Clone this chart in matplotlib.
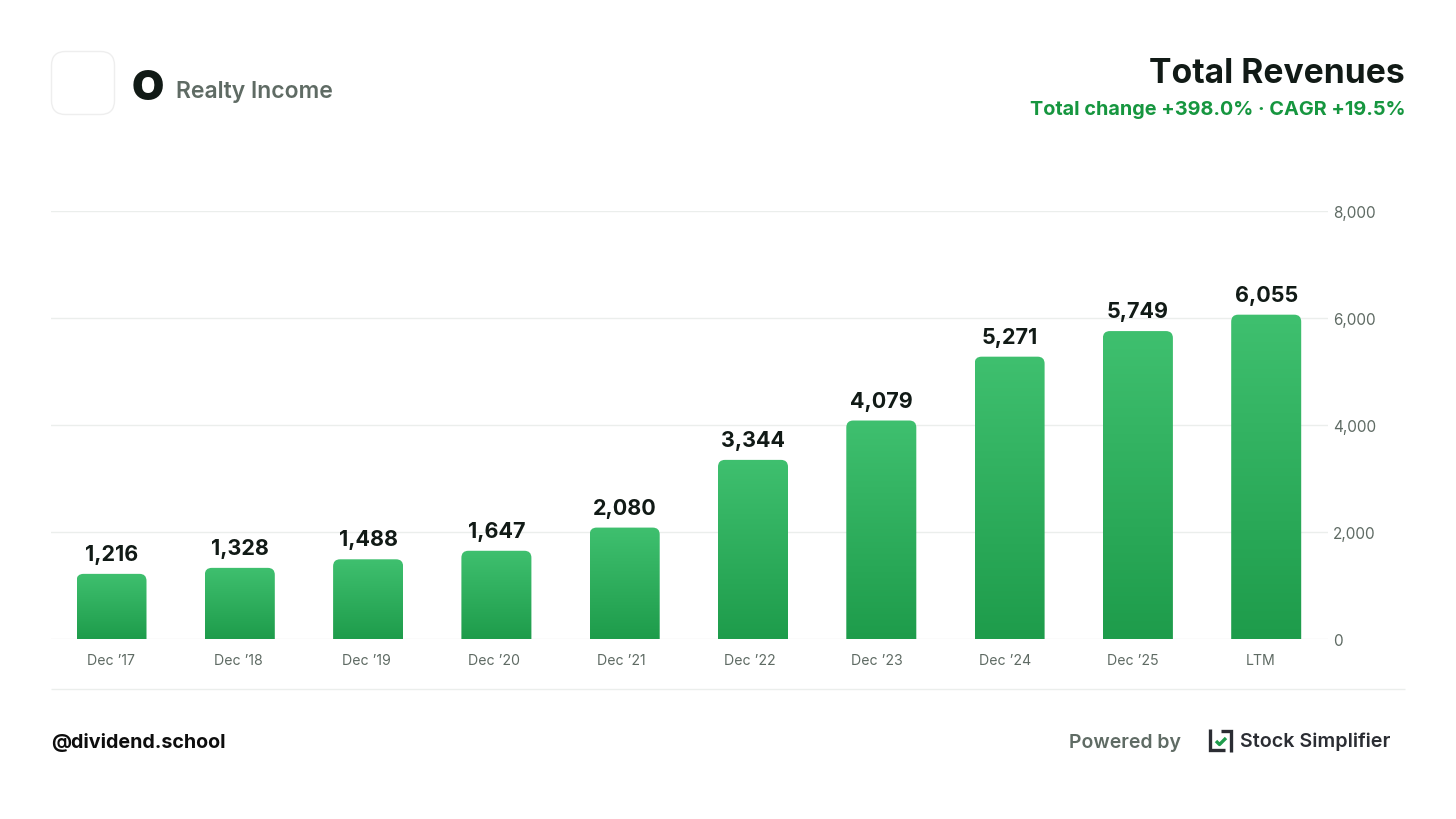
import matplotlib
matplotlib.use("Agg")
import matplotlib.pyplot as plt
import numpy as np
from matplotlib.path import Path
from matplotlib.patches import PathPatch, FancyBboxPatch
from matplotlib.colors import LinearSegmentedColormap
from matplotlib.transforms import ScaledTranslation

categories = ["Dec '17", "Dec '18", "Dec '19", "Dec '20", "Dec '21", "Dec '22", "Dec '23", "Dec '24", "Dec '25", "LTM"]
categories = [c.replace("'", "\u2019") for c in categories]
revenues = [1216, 1328, 1488, 1647, 2080, 3344, 4079, 5271, 5749, 6055]
y_ticks = [0, 2000, 4000, 6000, 8000]

W, H = 1456, 819
FONT = ["Inter", "DejaVu Sans"]
DARK = "#111a16"
GREY = "#5f6b64"
GRID = "#ebeeec"
plt.rcParams["font.family"] = FONT

fig = plt.figure(figsize=(W / 100, H / 100), dpi=100, facecolor="white")

# plot area
L, R, T, B = 51, 1328, 210.5, 639
ax = fig.add_axes([L / W, 1 - B / H, (R - L) / W, (B - T) / H])
XLIM = ((L - 111.5) / 128.3, (R - 111.5) / 128.3)
ax.set_facecolor("none")
for s in ax.spines.values():
    s.set_visible(False)
ax.set_yticks(y_ticks)
ax.set_yticklabels([f"{v:,}" for v in y_ticks], color=GREY, fontsize=11)
ax.yaxis.tick_right()
ax.tick_params(axis="y", length=0, pad=3.5)
for lab in ax.get_yticklabels():
    lab.set_transform(lab.get_transform() + ScaledTranslation(0, -1.5 / 100, fig.dpi_scale_trans))
ax.set_xticks([])
ax.grid(axis="y", color=GRID, lw=1, zorder=0)
ax.set_axisbelow(True)

# the month labels sit on a slightly tighter spacing than the bars
lx = ax.twiny()
lx.set_xlim((L - 111) / 127.7, (R - 111) / 127.7)
for s in lx.spines.values():
    s.set_visible(False)
lx.xaxis.tick_bottom()
lx.set_xticks(range(len(categories)))
lx.set_xticklabels(categories, color=GREY, fontsize=10.2)
lx.tick_params(axis="x", length=0, pad=11)

cmap = LinearSegmentedColormap.from_list("g", ["#3fc06f", "#1e9c4b"])
grad = np.linspace(0, 1, 256).reshape(-1, 1)
bar_w = 70 / 128.3
rx = 7 / 128.3
ry = 7 * 8000 / (B - T)
for i, v in enumerate(revenues):
    x0, x1 = i - bar_w / 2, i + bar_w / 2
    verts = [(x0, 0), (x0, v - ry), (x0, v), (x0 + rx, v), (x1 - rx, v), (x1, v), (x1, v - ry), (x1, 0), (x0, 0)]
    codes = [Path.MOVETO, Path.LINETO, Path.CURVE3, Path.CURVE3, Path.LINETO, Path.CURVE3, Path.CURVE3, Path.LINETO, Path.CLOSEPOLY]
    patch = PathPatch(Path(verts, codes), fc="none", ec="none", transform=ax.transData)
    ax.add_patch(patch)
    im = ax.imshow(grad, extent=(x0, x1, 0, v), aspect="auto", cmap=cmap, zorder=2, origin="upper")
    im.set_clip_path(patch)
    ax.annotate(f"{v:,}", (i, v), xytext=(0, 9), textcoords="offset pixels", ha="center", va="bottom",
                fontsize=15.5, fontweight="bold", color=DARK, zorder=3)
ax.set_xlim(*XLIM)
ax.set_ylim(0, 8000)

# page chrome in pixel coordinates
pg = fig.add_axes([0, 0, 1, 1], zorder=-1)
pg.set_xlim(0, W)
pg.set_ylim(H, 0)
pg.axis("off")

pg.add_patch(FancyBboxPatch((51.5 + 14, 51.5 + 14), 63 - 28, 63 - 28, boxstyle="round,pad=14,rounding_size=14",
                            fc="white", ec="#eeeeee", lw=1))
pg.text(148, 89, "O", fontsize=30, fontweight="black", color=DARK, ha="center", va="center")
pg.text(176, 92, "Realty Income", fontsize=16.5, fontweight="semibold", color=GREY, ha="left", va="center")
pg.text(1405, 74, "Total Revenues", fontsize=24.2, fontweight="bold", color=DARK, ha="right", va="center")
pg.text(1405, 110, "Total change +398.0% \u00b7 CAGR +19.5%", fontsize=14.3, fontweight="bold", color="#16963f", ha="right", va="center")

pg.plot([51, 1405], [689, 689], color=GRID, lw=1, solid_capstyle="butt")
pg.text(51, 743, "@dividend.school", fontsize=14.2, fontweight="bold", color="#0d0d0d", ha="left", va="center")
pg.text(1069, 743, "Powered by", fontsize=14, fontweight="semibold", color=GREY, ha="left", va="center")
pg.text(1240, 742, "Stock Simplifier", fontsize=14.2, fontweight="semibold", color="#2b2d33", ha="left", va="center")

# Stock Simplifier mark
ink = "#2b2d33"
pg.plot([1210, 1210, 1225], [729, 750, 750], color=ink, lw=2.4, solid_capstyle="butt", solid_joinstyle="miter")
pg.plot([1221, 1230.5, 1230.5], [730.5, 730.5, 752], color=ink, lw=2.4, solid_capstyle="butt", solid_joinstyle="miter")
pg.plot([1216, 1219.5, 1226], [741, 744.5, 738], color="#1f9c4c", lw=2.4, solid_capstyle="butt")

fig.savefig("out.png", dpi=100, facecolor="white")
